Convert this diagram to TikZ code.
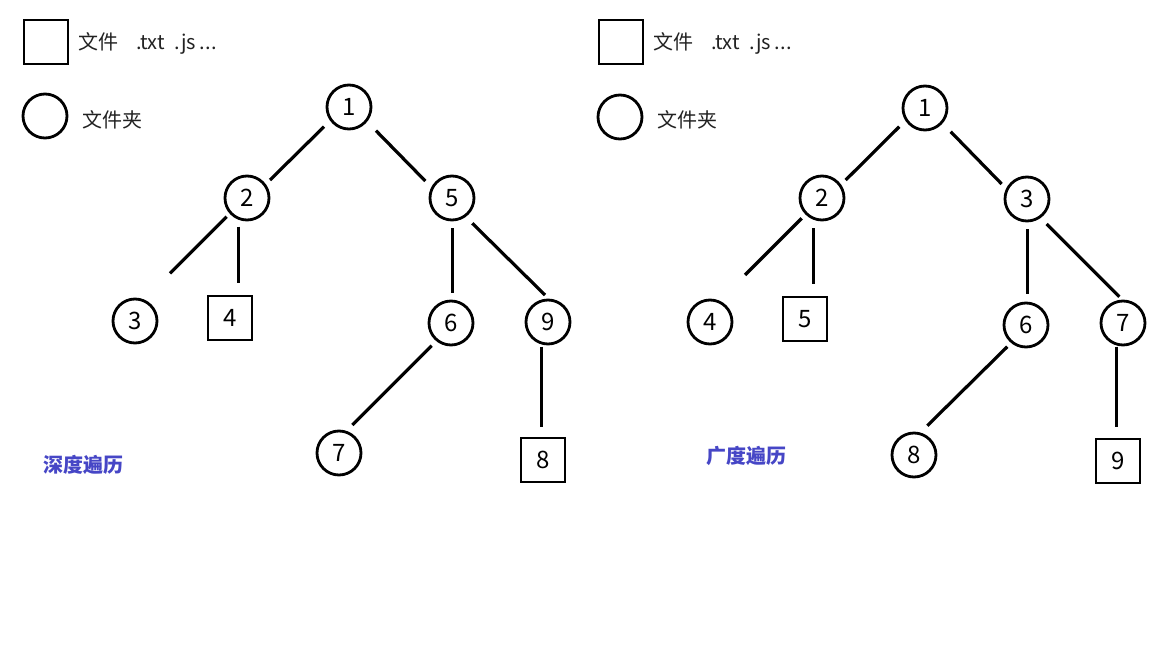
\documentclass[tikz,border=0pt]{standalone}
\usepackage{fontspec}
\newfontfamily\cjk{Noto Sans CJK SC}
\definecolor{labblue}{HTML}{4646C6}
\definecolor{legtext}{HTML}{222222}
\tikzset{
  fold/.style={circle,draw,line width=2.8pt,minimum size=44pt,inner sep=0pt,font=\cjk\fontsize{24}{24}\selectfont},
  file/.style={rectangle,draw,line width=2.8pt,minimum size=44pt,inner sep=0pt,font=\cjk\fontsize{24}{24}\selectfont},
  edge/.style={line width=3.2pt},
  legend/.style={anchor=west,inner sep=0pt,text=legtext,font=\cjk\fontsize{20}{20}\selectfont},
  title/.style={anchor=west,inner sep=0pt,text=labblue,font=\cjk\bfseries\fontsize{20}{20}\selectfont}
}
\newcommand\tedge[4]{\draw[edge] ([shift={#2}]#1.center) -- ([shift={#4}]#3.center);}
\begin{document}
\begin{tikzpicture}[x=1pt,y=-1pt]
\useasboundingbox (0,0) rectangle (1152,648);
\fill[white] (0,0) rectangle (1152,648);

% legend left
\node[file] (lsq) at (46,42) {};
\node[legend] (lsqt) at (78,43) {文件\hspace{18pt}.txt\hspace{10pt}.js\hspace{4pt}...};
\node[fold] (lci) at (45,116) {};
\node[legend] (lcit) at (82,120) {文件夹};
% legend right
\node[file] (rsq) at (621,42) {};
\node[legend] (rsqt) at (653,43) {文件\hspace{18pt}.txt\hspace{10pt}.js\hspace{4pt}...};
\node[fold] (rci) at (620,117) {};
\node[legend] (rcit) at (657,120) {文件夹};

% left tree (depth-first)
\node[fold] (a1) at (349,107) {1};
\node[fold] (a2) at (247,198) {2};
\node[fold] (a5) at (452,198) {5};
\node[fold] (a3) at (135,321) {3};
\node[file] (a4) at (230,318) {4};
\node[fold] (a6) at (451,323) {6};
\node[fold] (a9) at (548,322) {9};
\node[fold] (a7) at (339,453) {7};
\node[file] (a8) at (543,460) {8};
\tedge{a1}{(-25,19.7)}{a2}{(23,-18)}
\tedge{a1}{(27,23.7)}{a5}{(-26.7,-17)}
\tedge{a2}{(-20.3,18.7)}{a3}{(35,-47.7)}
\tedge{a2}{(-8.7,28.7)}{a4}{(8.3,-34.7)}
\tedge{a5}{(0.3,30.3)}{a6}{(1.3,-29.7)}
\tedge{a5}{(20.3,25.3)}{a9}{(-3,-27)}
\tedge{a6}{(-19.3,22.7)}{a7}{(13.3,-28)}
\tedge{a9}{(-6.3,24.7)}{a8}{(-1.3,-33.3)}
\node[title] (lt) at (43,465) {深度遍历};

% right tree (breadth-first)
\node[fold] (b1) at (925,108) {1};
\node[fold] (b2) at (822,198) {2};
\node[fold] (b3) at (1027,199) {3};
\node[fold] (b4) at (710,322) {4};
\node[file] (b5) at (805,319) {5};
\node[fold] (b6) at (1026,325) {6};
\node[fold] (b7) at (1123,323) {7};
\node[fold] (b8) at (914,455) {8};
\node[file] (b9) at (1118,461) {9};
\tedge{b1}{(-25.7,18.7)}{b2}{(23.7,-18)}
\tedge{b1}{(25.7,23.7)}{b3}{(-25.3,-15)}
\tedge{b2}{(-20.3,20.3)}{b4}{(35,-47)}
\tedge{b2}{(-8.7,30.3)}{b5}{(8.3,-34.7)}
\tedge{b3}{(0.7,30.3)}{b6}{(1.7,-30.7)}
\tedge{b3}{(19.7,25)}{b7}{(-3.7,-26.3)}
\tedge{b6}{(-18.7,21.7)}{b8}{(13.3,-29.3)}
\tedge{b7}{(-6.3,23.7)}{b9}{(-1.3,-33.7)}
\node[title] (rt) at (706,456) {广度遍历};
\end{tikzpicture}
\end{document}
